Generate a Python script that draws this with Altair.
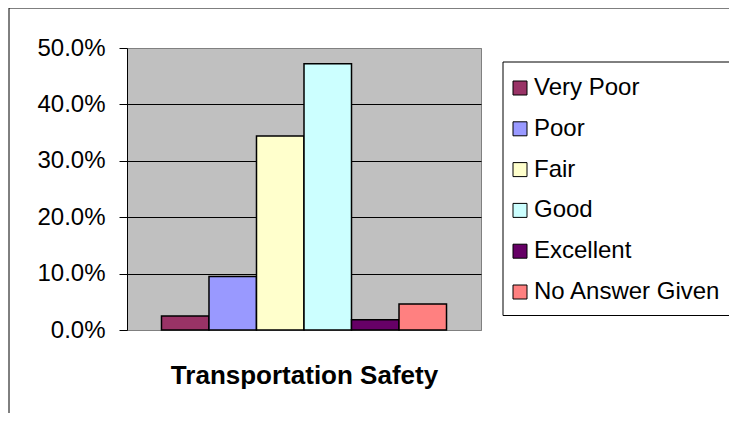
import altair as alt
import pandas as pd

ratings = ["Very Poor", "Poor", "Fair", "Good", "Excellent", "No Answer Given"]
shares = [0.025, 0.095, 0.344, 0.472, 0.018, 0.046]
colors = ["#993366", "#9999FF", "#FFFFCC", "#CCFFFF", "#660066", "#FF8080"]
y_ticks = [0.0, 0.1, 0.2, 0.3, 0.4, 0.5]
x_title = "Transportation Safety"

df = pd.DataFrame({"rating": ratings, "share": shares})

FONT = "Liberation Sans"

bars = alt.Chart(df).mark_bar(stroke="black", strokeWidth=1.5).encode(
    x=alt.X(
        "rating:N",
        sort=ratings,
        scale=alt.Scale(paddingInner=0, paddingOuter=0.726),
        axis=alt.Axis(
            labels=False, ticks=False, domain=False, grid=False,
            title=x_title, titleFont=FONT, titleFontSize=26, titleFontWeight="bold",
            titleColor="black", titleBaseline="alphabetic", titlePadding=53,
        ),
    ),
    y=alt.Y(
        "share:Q",
        scale=alt.Scale(domain=[0, 0.5], nice=False),
        axis=alt.Axis(
            values=y_ticks, format=".1%", title=None,
            labelFont=FONT, labelFontSize=24, labelColor="black", labelPadding=14,
            tickSize=8, tickColor="black", domainColor="black",
            grid=True,
            gridColor=alt.condition("datum.value <= 0 || datum.value >= 0.5",
                                    alt.value("#808080"), alt.value("black")),
        ),
    ),
    color=alt.Color(
        "rating:N",
        sort=ratings,
        scale=alt.Scale(domain=ratings, range=colors),
        legend=alt.Legend(
            title=None, orient="none", legendX=381, legendY=28,
            symbolType="square", symbolSize=196, symbolStrokeColor="black",
            symbolStrokeWidth=1, labelFont=FONT, labelFontSize=24, labelColor="black",
            labelLimit=500, labelOffset=2, rowPadding=16.8, padding=0,
        ),
    ),
)

frame = alt.Chart(alt.Data(values=[{"k": 1}])).mark_rect(
    fillOpacity=0, stroke="black", strokeWidth=1
).encode(
    x=alt.value(-118), x2=alt.value(800),
    y=alt.value(-40), y2=alt.value(500),
)

legend_box = alt.Chart(alt.Data(values=[{"k": 1}])).mark_rect(
    fill="white", stroke="black", strokeWidth=1
).encode(
    x=alt.value(376), x2=alt.value(700),
    y=alt.value(14), y2=alt.value(267.5),
)

chart = alt.layer(frame, legend_box, bars).properties(
    width=354, height=282,
    autosize=alt.AutoSizeParams(type="none"),
    padding={"left": 119, "top": 40, "right": 248, "bottom": 83},
    background="white",
).configure_view(
    fill="#C0C0C0", stroke="#808080", strokeWidth=1
)

chart.save("out.html", embed_options={"renderer": "svg", "actions": False})
